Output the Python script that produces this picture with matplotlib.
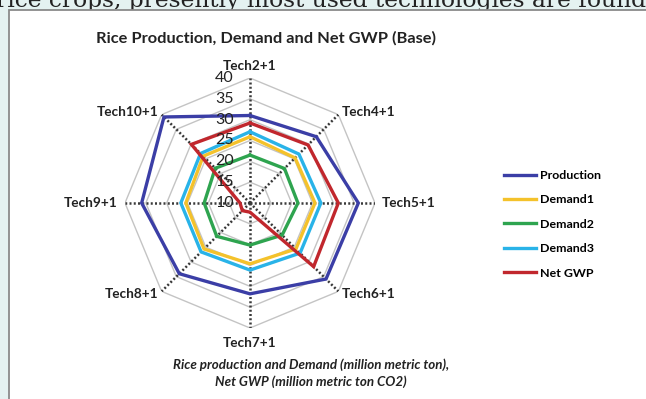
import matplotlib
matplotlib.use("Agg")
import matplotlib.pyplot as plt
import matplotlib.transforms as mtransforms
from matplotlib.patches import Rectangle
from matplotlib.lines import Line2D
import numpy as np

# values
categories = ["Tech2+1", "Tech4+1", "Tech5+1", "Tech6+1",
              "Tech7+1", "Tech8+1", "Tech9+1", "Tech10+1"]
production = [31.0, 32.5, 36.0, 35.8, 31.8, 34.0, 36.0, 39.2]
demand1 = [25.9, 25.3, 25.6, 25.6, 24.6, 25.6, 25.4, 25.9]
demand2 = [21.5, 21.7, 21.5, 20.9, 20.1, 21.3, 21.0, 21.8]
demand3 = [27.1, 26.6, 27.0, 27.0, 26.1, 26.6, 26.6, 26.8]
net_gwp = [29.2, 29.7, 31.2, 31.6, 12.2, 12.6, 12.4, 29.9]
r_ticks = [10, 15, 20, 25, 30, 35, 40]

series = [
    ("Production", production, "#3b3ea6"),
    ("Demand1", demand1, "#f4c22b"),
    ("Demand2", demand2, "#2ea44f"),
    ("Demand3", demand3, "#29b3e8"),
    ("Net GWP", net_gwp, "#c1272d"),
]

W, H = 646, 399
fig = plt.figure(figsize=(W / 100, H / 100), dpi=100)
fig.patch.set_facecolor("#e4f2f1")

def fx(px):
    return px / W

def fy(py):
    return 1 - py / H

# page text above the chart box, cut by the top edge as in the scan
fig.text(fx(-4), fy(7.5), "rice crops, presently most used technologies are found",
         family="DejaVu Serif", fontsize=16.8, color="#222222",
         ha="left", va="baseline", zorder=0)

# white chart box (runs off the right and bottom edges)
box = Rectangle((fx(9), fy(420)), fx(700), fy(10) - fy(420),
                transform=fig.transFigure, facecolor="white",
                edgecolor="#8a8a8a", linewidth=1.3, zorder=1)
fig.patches.append(box)

fig.text(fx(266), fy(38), "Rice Production, Demand and Net GWP (Base)",
         family="Lato", fontweight="bold", fontsize=11.8, color="#222222",
         ha="center", va="center", zorder=3)

cx, cy, R = 250, 203, 125
ax = fig.add_axes([fx(cx - R), fy(cy + R), 2 * R / W, 2 * R / H],
                  projection="polar")
ax.set_zorder(2)
ax.set_theta_zero_location("N")
ax.set_theta_direction(-1)
ax.set_ylim(r_ticks[0], r_ticks[-1])
ax.grid(False)
ax.set_xticks([])
ax.set_yticks([])
ax.spines["polar"].set_visible(False)
ax.patch.set_alpha(0)

n = len(categories)
theta = np.arange(n) * 2 * np.pi / n
theta_closed = np.append(theta, theta[0])

# octagonal gridlines
for r in r_ticks[1:]:
    ax.plot(theta_closed, [r] * (n + 1), color="#c4c4c4", lw=1.0, zorder=1)
# spokes
for t in theta:
    ax.plot([t, t], [r_ticks[0], r_ticks[-1]], color="#3a3a3a", lw=1.8,
            ls=(0, (0.8, 0.9)), zorder=1)

handles = []
for name, vals, col in series:
    ax.plot(theta_closed, vals + vals[:1], color=col, lw=2.4, zorder=3,
            solid_joinstyle="miter")
    handles.append(Line2D([], [], color=col, lw=2.4))

# radial value labels left of the top spoke
lab_tr = mtransforms.offset_copy(ax.transData, fig=fig, x=-16, y=0, units="dots")
for r in r_ticks:
    ax.text(0, r, str(r), transform=lab_tr, ha="right", va="center",
            family="Lato", fontsize=11.5, color="#222222", zorder=4)

# category labels
label_pos = [(42.9, "center"), (41.0, "left"), (41.7, "left"), (41.0, "left"),
             (43.6, "center"), (41.0, "right"), (41.7, "right"), (41.0, "right")]
for t, name, (r, ha) in zip(theta, categories, label_pos):
    ax.text(t, r, name, ha=ha, va="center", family="Lato", fontweight="bold",
            fontsize=9.8, color="#222222", clip_on=False, zorder=4)

fig.legend(handles, [s[0] for s in series], loc="upper left",
           bbox_to_anchor=(fx(493), fy(159)), frameon=False,
           prop={"family": "Lato", "weight": "bold", "size": 8.9},
           handlelength=2.6, handletextpad=0.3, labelspacing=1.08)

fig.text(fx(311), fy(365), "Rice production and Demand (million metric ton),",
         family="Lato", fontweight="bold", style="italic", fontsize=9.6,
         color="#222222", ha="center", va="center", zorder=3)
fig.text(fx(311), fy(382), "Net GWP (million metric ton CO2)",
         family="Lato", fontweight="bold", style="italic", fontsize=9.6,
         color="#222222", ha="center", va="center", zorder=3)

fig.savefig("out.png", dpi=100)
